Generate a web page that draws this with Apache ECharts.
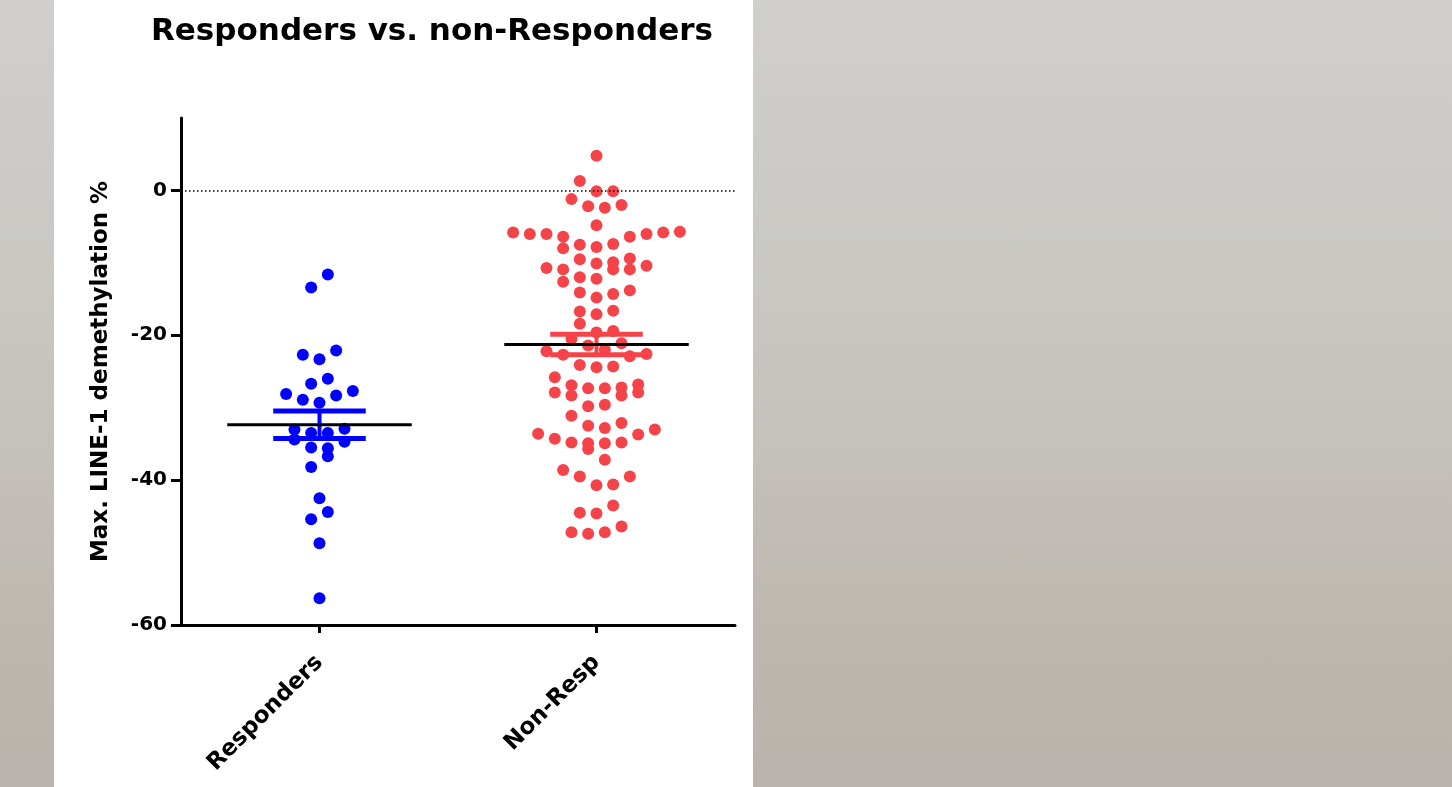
<!DOCTYPE html>
<html><head><meta charset="utf-8">
<script src="https://cdn.jsdelivr.net/npm/echarts@6/dist/echarts.min.js"></script>
<style>
html,body{margin:0;padding:0;width:1452px;height:787px;overflow:hidden;
  background:linear-gradient(to bottom,#d0cfcc 0%,#c8c5c0 45%,#bdb7af 80%,#bab3ad 100%);}
#panel{position:absolute;left:54px;top:0;width:699px;height:787px;background:#fff;}
#chart{position:absolute;left:0;top:0;width:1452px;height:787px;}
</style></head><body><div id="panel"></div><div id="chart"></div>
<script>
// ---- data ----
const categories = ['Responders', 'Non-Resp'];
const yTickValues = [-60, -40, -20, 0];

const respondersValues = [-11.6, -13.4, -22.1, -22.7, -23.3, -26.0, -26.7, -27.7, -28.1, -28.3,
  -28.9, -29.3, -32.9, -33.0, -33.5, -33.5, -34.4, -34.7, -35.5, -35.6,
  -36.7, -38.2, -42.5, -44.4, -45.4, -48.7, -56.3];
// horizontal swarm column of each point (in half-dot steps from the group centre)
const respondersSlots = [1, -1, 2, -2, 0, 1, -1, 4, -4, 2,
  -2, 0, 3, -3, -1, 1, -3, 3, -1, 1,
  1, -1, 0, 1, -1, 0, 0];

const nonRespValues = [4.8, 1.3, -0.1, -0.1, -1.2, -2.0, -2.2, -2.4, -4.8, -5.7,
  -5.8, -5.8, -6.0, -6.0, -6.0, -6.4, -6.4, -7.4, -7.5, -7.8,
  -8.0, -9.4, -9.5, -9.9, -10.1, -10.4, -10.7, -10.9, -10.9, -10.9,
  -12.0, -12.2, -12.6, -13.8, -14.1, -14.3, -14.8, -16.6, -16.7, -17.1,
  -18.4, -19.4, -19.6, -20.5, -21.1, -21.4, -22.0, -22.2, -22.6, -22.7,
  -22.9, -24.1, -24.3, -24.4, -25.8, -26.8, -26.9, -27.2, -27.3, -27.3,
  -27.9, -27.9, -28.3, -28.3, -29.6, -29.8, -31.1, -32.1, -32.5, -32.8,
  -33.0, -33.6, -33.7, -34.3, -34.8, -34.8, -34.9, -34.9, -35.7, -37.2,
  -38.6, -39.5, -39.5, -40.6, -40.7, -43.5, -44.5, -44.6, -46.4, -47.2,
  -47.2, -47.4];
const nonRespSlots = [0, -2, 0, 2, -3, 3, -1, 1, 0, 10,
  -10, 8, -8, -6, 6, -4, 4, 2, -2, 0,
  -4, 4, -2, 2, 0, 6, -6, 2, 4, -4,
  -2, 0, -4, 4, -2, 2, 0, 2, -2, 0,
  -2, 2, 0, -3, 3, -1, 1, -6, 6, -4,
  4, -2, 2, 0, -5, 5, -3, 3, -1, 1,
  -5, 5, -3, 3, 1, -1, -3, 3, -1, 1,
  7, -7, 5, -5, -3, 3, -1, 1, -1, 1,
  -4, -2, 4, 2, 0, 2, -2, 0, 3, -3,
  1, -1];

// ---- layout / style constants ----
const SLOT = 0.0301;          // x-axis units per swarm step
const MEAN_HALF = 0.333;      // half length of mean line
const SEM_HALF = 0.167;       // half length of SEM caps
const BLUE = '#0000ff';
const RED = '#f5434a';
const FONT = 'DejaVu Sans';

function centre(i) { return i + 0.5; }
function swarm(values, slots, ci) {
  return values.map((v, k) => [centre(ci) + slots[k] * SLOT, v]);
}
function stats(values) {
  const n = values.length;
  const m = values.reduce((a, b) => a + b, 0) / n;
  const sd = Math.sqrt(values.reduce((a, b) => a + (b - m) * (b - m), 0) / (n - 1));
  return [m, sd / Math.sqrt(n)];
}
const groups = [
  { values: respondersValues, slots: respondersSlots, color: BLUE },
  { values: nonRespValues, slots: nonRespSlots, color: RED }
];
const summary = groups.map((g, i) => { const s = stats(g.values); return [centre(i), s[0], s[1]]; });

const chart = echarts.init(document.getElementById('chart'), null, { renderer: 'canvas' });
chart.setOption({
  backgroundColor: 'transparent',
  animation: false,
  title: {
    text: 'Responders vs. non-Responders',
    left: 427, top: 11, textAlign: 'center',
    textStyle: { fontFamily: FONT, fontWeight: 'bold', fontSize: 31, color: '#000' }
  },
  grid: { left: 181, right: 717, top: 118, bottom: 162 },
  xAxis: {
    type: 'value', min: 0, max: 2,
    splitLine: { show: false },
    axisLine: { onZero: false, lineStyle: { color: '#000', width: 3 } },
    axisTick: { customValues: [0.5, 1.5], length: 8, lineStyle: { color: '#000', width: 3 } },
    axisLabel: {
      customValues: [0.5, 1.5],
      formatter: v => categories[Math.round(v - 0.5)],
      rotate: 45, margin: 34,
      fontFamily: FONT, fontWeight: 'bold', fontSize: 23, color: '#000'
    }
  },
  yAxis: {
    type: 'value', min: -60, max: 10, interval: 20,
    name: 'Max. LINE-1 demethylation %',
    nameLocation: 'middle', nameGap: 68,
    nameTextStyle: { fontFamily: FONT, fontWeight: 'bold', fontSize: 23, color: '#000' },
    splitLine: { show: false },
    axisLine: { onZero: false, lineStyle: { color: '#000', width: 3 } },
    axisTick: { customValues: yTickValues, length: 10, lineStyle: { color: '#000', width: 3 } },
    axisLabel: {
      customValues: yTickValues, margin: 14,
      fontFamily: FONT, fontWeight: 'bold', fontSize: 20, color: '#000'
    }
  },
  series: [
    {
      type: 'scatter', name: categories[0], symbolSize: 12,
      itemStyle: { color: BLUE, opacity: 1 },
      data: swarm(respondersValues, respondersSlots, 0),
      markLine: {
        silent: true, symbol: 'none', label: { show: false },
        lineStyle: { color: '#000', width: 1.5, type: [1.5, 2.5] },
        data: [{ yAxis: 0 }]
      },
      z: 3
    },
    {
      type: 'scatter', name: categories[1], symbolSize: 12,
      itemStyle: { color: RED, opacity: 1 },
      data: swarm(nonRespValues, nonRespSlots, 1),
      z: 3
    },
    {
      type: 'custom', z: 5, silent: true,
      data: summary,
      renderItem: function (params, api) {
        const cx = api.value(0), m = api.value(1), s = api.value(2);
        const col = groups[params.dataIndex].color;
        const p = (x, y) => api.coord([x, y]);
        const seg = (a, b, w, c) => ({
          type: 'line',
          shape: { x1: a[0], y1: a[1], x2: b[0], y2: b[1] },
          style: { stroke: c, lineWidth: w }
        });
        return {
          type: 'group',
          children: [
            seg(p(cx, m + s), p(cx, m - s), 4, col),
            seg(p(cx - SEM_HALF, m + s), p(cx + SEM_HALF, m + s), 5, col),
            seg(p(cx - SEM_HALF, m - s), p(cx + SEM_HALF, m - s), 5, col),
            seg(p(cx - MEAN_HALF, m), p(cx + MEAN_HALF, m), 3, '#000')
          ]
        };
      }
    }
  ]
});
</script></body></html>
